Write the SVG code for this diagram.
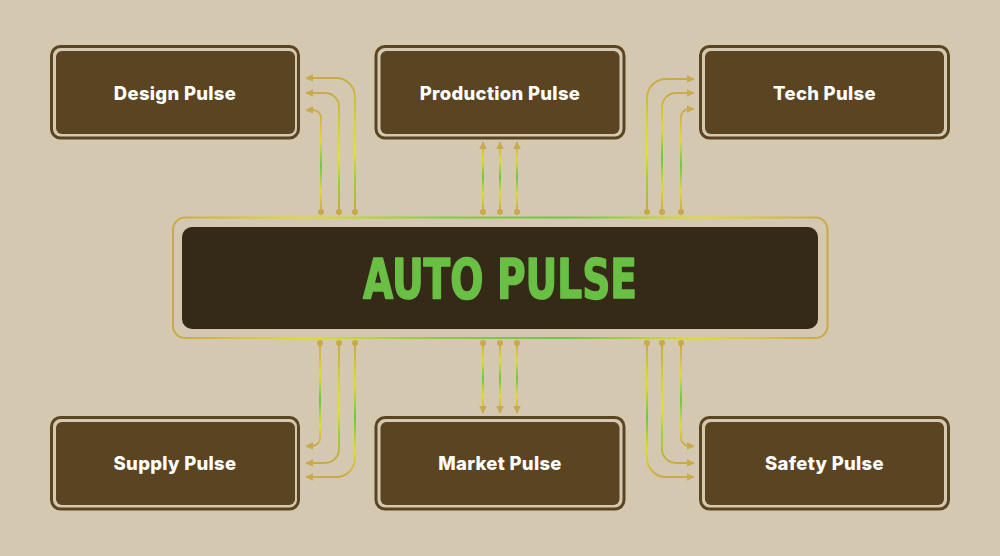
<svg xmlns="http://www.w3.org/2000/svg" width="1000" height="556" viewBox="0 0 1000 556">
  <style>
    .frame { fill: none; stroke: #5b4421; stroke-width: 3; }
    .fill { fill: #5b4421; }
    .label { font-family: Inter, "Open Sans", "DejaVu Sans", sans-serif; font-weight: 800; font-size: 18.5px; letter-spacing: 0.3px; fill: #ffffff; text-anchor: middle; }
    .title { font-family: "DejaVu Sans Condensed", "DejaVu Sans", sans-serif; font-weight: 700; font-size: 56px; fill: #6abf45; stroke: #6abf45; stroke-width: 1.6; stroke-linejoin: round; text-anchor: middle; }
    .conn { fill: none; stroke-width: 2; stroke-linecap: round; }
    .dot { fill: #c9a94a; }
  </style>
  <defs>
    <linearGradient id="gA" x1="0" y1="0" x2="0" y2="1">
      <stop offset="0" stop-color="#c9a94a"/>
      <stop offset="0.3" stop-color="#e2dc2e"/>
      <stop offset="0.55" stop-color="#6cc644"/>
      <stop offset="0.8" stop-color="#e2dc2e"/>
      <stop offset="1" stop-color="#c9a94a"/>
    </linearGradient>
    <linearGradient id="gB" x1="0" y1="0" x2="0" y2="1">
      <stop offset="0" stop-color="#c9a94a"/>
      <stop offset="0.35" stop-color="#d8d43a"/>
      <stop offset="0.55" stop-color="#e6e02a"/>
      <stop offset="0.75" stop-color="#9ccf3c"/>
      <stop offset="1" stop-color="#c9a94a"/>
    </linearGradient>
    <linearGradient id="gTop" gradientUnits="userSpaceOnUse" x1="0" y1="143" x2="0" y2="211">
      <stop offset="0" stop-color="#c9a94a"/>
      <stop offset="0.25" stop-color="#e2dc2e"/>
      <stop offset="0.5" stop-color="#6cc644"/>
      <stop offset="0.75" stop-color="#e2dc2e"/>
      <stop offset="1" stop-color="#c9a94a"/>
    </linearGradient>
    <linearGradient id="gBot" gradientUnits="userSpaceOnUse" x1="0" y1="344" x2="0" y2="412">
      <stop offset="0" stop-color="#c9a94a"/>
      <stop offset="0.25" stop-color="#e2dc2e"/>
      <stop offset="0.5" stop-color="#6cc644"/>
      <stop offset="0.75" stop-color="#e2dc2e"/>
      <stop offset="1" stop-color="#c9a94a"/>
    </linearGradient>
    <linearGradient id="gF" x1="0" y1="0" x2="1" y2="0">
      <stop offset="0" stop-color="#c9a94a"/>
      <stop offset="0.2" stop-color="#e2dc2e"/>
      <stop offset="0.4" stop-color="#8ccc3e"/>
      <stop offset="0.6" stop-color="#6cc644"/>
      <stop offset="0.8" stop-color="#e2dc2e"/>
      <stop offset="1" stop-color="#c9a94a"/>
    </linearGradient>
    <marker id="arr" viewBox="0 0 10 10" refX="8" refY="5" markerWidth="4" markerHeight="4" markerUnits="strokeWidth" orient="auto">
      <path d="M0,0 L10,5 L0,10 Z" fill="#c9a94a"/>
    </marker>
  </defs>

  <rect width="1000" height="556" fill="#d4c9b0"/>

  <g id="center">
    <rect x="173" y="217.5" width="654.5" height="120.5" rx="12" fill="none" stroke="url(#gF)" stroke-width="2"/>
    <rect x="182" y="227" width="636" height="102" rx="10" fill="#352a17"/>
    <text class="title" x="500" y="298" textLength="274" lengthAdjust="spacingAndGlyphs">AUTO PULSE</text>
  </g>

  <g id="design-pulse">
    <rect class="frame" x="51.5" y="46.5" width="247" height="91.5" rx="9"/>
    <rect class="fill" x="56" y="51" width="239" height="83" rx="6"/>
    <text class="label" x="175" y="100">Design Pulse</text>
  </g>
  <g id="production-pulse">
    <rect class="frame" x="376" y="46.5" width="248" height="91.5" rx="9"/>
    <rect class="fill" x="380.5" y="51" width="239" height="83" rx="6"/>
    <text class="label" x="500" y="100">Production Pulse</text>
  </g>
  <g id="tech-pulse">
    <rect class="frame" x="700.5" y="46.5" width="248" height="91.5" rx="9"/>
    <rect class="fill" x="705" y="51" width="239" height="83" rx="6"/>
    <text class="label" x="824.5" y="100">Tech Pulse</text>
  </g>
  <g id="supply-pulse">
    <rect class="frame" x="51.5" y="417.5" width="247" height="91.5" rx="9"/>
    <rect class="fill" x="56" y="422" width="239" height="83" rx="6"/>
    <text class="label" x="175" y="470">Supply Pulse</text>
  </g>
  <g id="market-pulse">
    <rect class="frame" x="376" y="417.5" width="248" height="91.5" rx="9"/>
    <rect class="fill" x="380.5" y="422" width="239" height="83" rx="6"/>
    <text class="label" x="500" y="470">Market Pulse</text>
  </g>
  <g id="safety-pulse">
    <rect class="frame" x="700.5" y="417.5" width="248" height="91.5" rx="9"/>
    <rect class="fill" x="705" y="422" width="239" height="83" rx="6"/>
    <text class="label" x="824.5" y="470">Safety Pulse</text>
  </g>

  <g id="connectors">
    <!-- Design Pulse -->
    <path class="conn" stroke="url(#gA)" d="M321,211 V118 A8,8 0 0 0 313,110 H307" marker-end="url(#arr)"/>
    <path class="conn" stroke="url(#gB)" d="M339,211 V107 A14,14 0 0 0 325,93 H307" marker-end="url(#arr)"/>
    <path class="conn" stroke="url(#gB)" d="M355,211 V97 A19,19 0 0 0 336,78 H307" marker-end="url(#arr)"/>
    <circle class="dot" cx="321" cy="212" r="3"/>
    <circle class="dot" cx="339" cy="212" r="3"/>
    <circle class="dot" cx="355" cy="212" r="3"/>
    <!-- Production Pulse -->
    <path class="conn" stroke="url(#gTop)" d="M483,211 V143" marker-end="url(#arr)"/>
    <path class="conn" stroke="url(#gTop)" d="M500,211 V143" marker-end="url(#arr)"/>
    <path class="conn" stroke="url(#gTop)" d="M517,211 V143" marker-end="url(#arr)"/>
    <circle class="dot" cx="483" cy="212" r="3"/>
    <circle class="dot" cx="500" cy="212" r="3"/>
    <circle class="dot" cx="517" cy="212" r="3"/>
    <!-- Tech Pulse -->
    <path class="conn" stroke="url(#gB)" d="M647,211 V98 A19,19 0 0 1 666,79 H693" marker-end="url(#arr)"/>
    <path class="conn" stroke="url(#gA)" d="M662,211 V107 A14,14 0 0 1 676,93 H693" marker-end="url(#arr)"/>
    <path class="conn" stroke="url(#gA)" d="M681,211 V117 A8,8 0 0 1 689,109 H693" marker-end="url(#arr)"/>
    <circle class="dot" cx="647" cy="212" r="3"/>
    <circle class="dot" cx="662" cy="212" r="3"/>
    <circle class="dot" cx="681" cy="212" r="3"/>
    <!-- Supply Pulse -->
    <path class="conn" stroke="url(#gA)" d="M320,344 V438 A8,8 0 0 1 312,446 H307" marker-end="url(#arr)"/>
    <path class="conn" stroke="url(#gB)" d="M339,344 V449 A14,14 0 0 1 325,463 H307" marker-end="url(#arr)"/>
    <path class="conn" stroke="url(#gA)" d="M355,344 V458 A19,19 0 0 1 336,477 H307" marker-end="url(#arr)"/>
    <circle class="dot" cx="320" cy="343" r="3"/>
    <circle class="dot" cx="339" cy="343" r="3"/>
    <circle class="dot" cx="355" cy="343" r="3"/>
    <!-- Market Pulse -->
    <path class="conn" stroke="url(#gBot)" d="M483,344 V412" marker-end="url(#arr)"/>
    <path class="conn" stroke="url(#gBot)" d="M500,344 V412" marker-end="url(#arr)"/>
    <path class="conn" stroke="url(#gBot)" d="M517,344 V412" marker-end="url(#arr)"/>
    <circle class="dot" cx="483" cy="343" r="3"/>
    <circle class="dot" cx="500" cy="343" r="3"/>
    <circle class="dot" cx="517" cy="343" r="3"/>
    <!-- Safety Pulse -->
    <path class="conn" stroke="url(#gA)" d="M647,344 V458 A19,19 0 0 0 666,477 H693" marker-end="url(#arr)"/>
    <path class="conn" stroke="url(#gB)" d="M662,344 V449 A14,14 0 0 0 676,463 H693" marker-end="url(#arr)"/>
    <path class="conn" stroke="url(#gA)" d="M681,344 V438 A8,8 0 0 0 689,446 H693" marker-end="url(#arr)"/>
    <circle class="dot" cx="647" cy="343" r="3"/>
    <circle class="dot" cx="662" cy="343" r="3"/>
    <circle class="dot" cx="681" cy="343" r="3"/>
  </g>
</svg>
